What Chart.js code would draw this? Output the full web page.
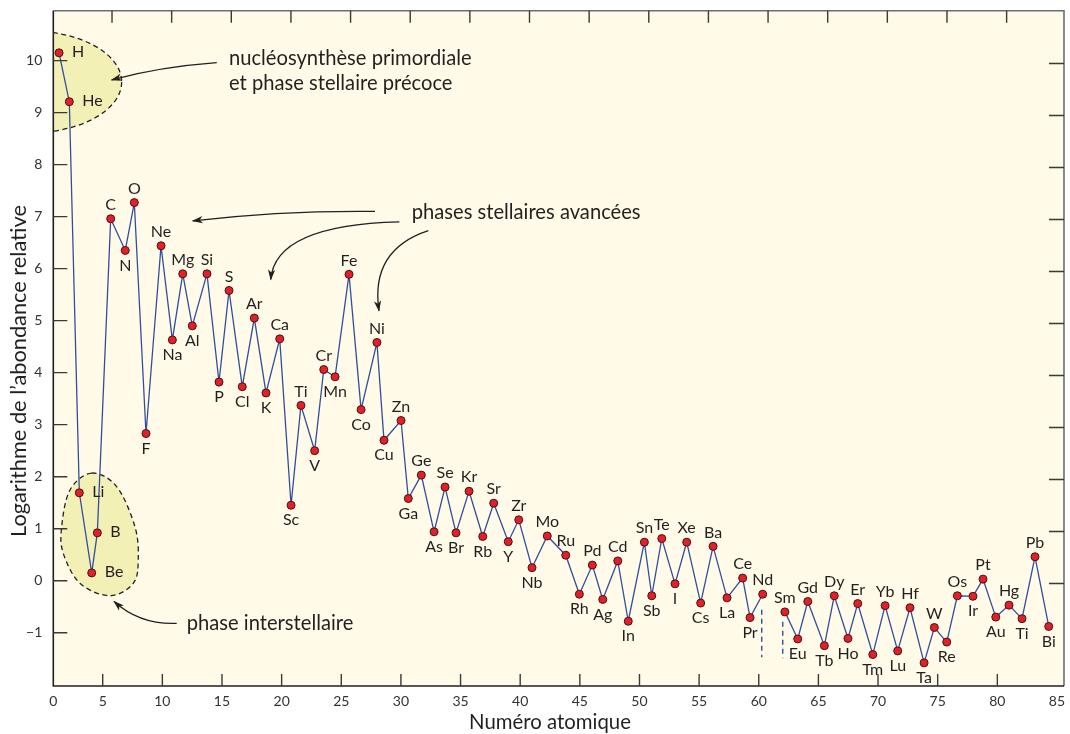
<!DOCTYPE html>
<html>
<head>
<meta charset="utf-8">
<script src="https://cdn.jsdelivr.net/npm/chart.js@4.4.1/dist/chart.umd.min.js"></script>
<style>
  html, body { margin: 0; padding: 0; background: #ffffff; }
  #wrap { width: 1070px; height: 734px; }
</style>
</head>
<body>
<div id="wrap"><canvas id="c" width="1070" height="734"></canvas></div>
<script>
// ---------- data ----------
const symbols = ['H','He','Li','Be','B','C','N','O','F','Ne','Na','Mg','Al','Si','P','S','Cl','Ar','K','Ca',
  'Sc','Ti','V','Cr','Mn','Fe','Co','Ni','Cu','Zn','Ga','Ge','As','Se','Br','Kr','Rb','Sr','Y','Zr',
  'Nb','Mo','Ru','Rh','Pd','Ag','Cd','In','Sn','Sb','Te','I','Xe','Cs','Ba','La','Ce','Pr','Nd','Pm',
  'Sm','Eu','Gd','Tb','Dy','Ho','Er','Tm','Yb','Lu','Hf','Ta','W','Re','Os','Ir','Pt','Au','Hg','Ti','Pb','Bi'];

// horizontal position of each point as drawn on the atomic-number axis
const atomicPos = [1.34,2.20,3.04,4.08,4.55,5.67,6.89,7.65,8.63,9.89,10.84,11.71,12.51,13.74,14.75,15.59,16.70,17.71,18.69,19.84,
  20.79,21.62,22.77,23.53,24.48,25.65,26.66,27.99,28.58,30.01,30.62,31.71,32.78,33.70,34.62,35.71,36.86,37.78,39.00,39.88,
  40.99,42.27,43.82,44.96,46.05,46.92,48.18,49.06,50.41,51.03,51.87,52.98,53.96,55.13,56.17,57.34,58.65,59.27,60.33,61.20,
  62.19,63.27,64.11,65.50,66.33,67.48,68.30,69.56,70.59,71.65,72.68,73.86,74.72,75.76,76.65,77.96,78.80,79.87,80.98,82.07,83.16,84.31];

// log of relative abundance (Pm not shown -> null)
const logAbundance = [10.15,9.21,1.69,0.15,0.92,6.96,6.35,7.27,2.83,6.44,4.63,5.90,4.90,5.90,3.82,5.58,3.73,5.05,3.61,4.65,
  1.45,3.37,2.50,4.06,3.92,5.89,3.29,4.58,2.70,3.08,1.58,2.03,0.94,1.80,0.92,1.72,0.85,1.49,0.75,1.17,
  0.25,0.86,0.49,-0.26,0.30,-0.36,0.38,-0.78,0.74,-0.29,0.81,-0.06,0.74,-0.43,0.66,-0.33,0.05,-0.71,-0.26,null,
  -0.60,-1.12,-0.40,-1.25,-0.29,-1.11,-0.44,-1.42,-0.48,-1.35,-0.52,-1.58,-0.90,-1.18,-0.29,-0.30,0.03,-0.70,-0.47,-0.73,0.46,-0.88];

// label side: a = above, b = below, r = right
const labelSide = ['r','r','r','r','r','a','b','a','b','a','b','a','b','a','b','a','b','a','b','a',
  'b','a','b','a','b','a','b','a','b','a','b','a','b','a','b','a','b','a','b','a',
  'b','a','a','b','a','b','a','b','a','b','a','b','a','b','a','b','a','b','a','-',
  'a','b','a','b','a','b','a','b','a','b','a','b','a','b','a','b','a','b','a','b','a','b'];

// dashed markers around the missing Pm
const pmMarkA = [{x: 60.25, y: -0.56}, {x: 60.25, y: -1.47}];
const pmMarkB = [{x: 62.01, y: -0.79}, {x: 62.01, y: -1.49}];

const xTickLabels = [0,5,10,15,20,25,30,35,40,45,50,55,60,65,70,75,80,85];
const yTickLabels = [-1,0,1,2,3,4,5,6,7,8,9,10];
const X_MIN = 0.858, X_MAX = 85.59, Y_MIN = -2.025, Y_MAX = 10.96;

// ---------- presentation ----------
const FONT = 'Lato, "Open Sans", sans-serif';
const INK = '#231f20';
const BG = '#fffbe8';
const BLOB = '#f3f0b5';
const LINE = '#2f4ea0';

const points = atomicPos.map((x, i) => ({x: x, y: logAbundance[i]}));

function fitSize(ctx, text, width) {
  ctx.font = '100px ' + FONT;
  return 100 * width / ctx.measureText(text).width;
}

function drawArrow(ctx, p0, c, p2) {
  ctx.beginPath();
  ctx.moveTo(p0[0], p0[1]);
  ctx.quadraticCurveTo(c[0], c[1], p2[0], p2[1]);
  ctx.stroke();
  let dx = p2[0] - c[0], dy = p2[1] - c[1];
  const L = Math.hypot(dx, dy); dx /= L; dy /= L;
  const nx = -dy, ny = dx, len = 10, hw = 3.6;
  ctx.beginPath();
  ctx.moveTo(p2[0] + dx, p2[1] + dy);
  ctx.lineTo(p2[0] - dx * len + nx * hw, p2[1] - dy * len + ny * hw);
  ctx.lineTo(p2[0] - dx * len * 0.7, p2[1] - dy * len * 0.7);
  ctx.lineTo(p2[0] - dx * len - nx * hw, p2[1] - dy * len - ny * hw);
  ctx.closePath();
  ctx.fill();
}

function smoothClosed(ctx, pts) {
  const n = pts.length;
  ctx.moveTo(pts[0][0], pts[0][1]);
  for (let i = 0; i < n; i++) {
    const p0 = pts[(i - 1 + n) % n], p1 = pts[i], p2 = pts[(i + 1) % n], p3 = pts[(i + 2) % n];
    const c1 = [p1[0] + (p2[0] - p0[0]) / 6, p1[1] + (p2[1] - p0[1]) / 6];
    const c2 = [p2[0] - (p3[0] - p1[0]) / 6, p2[1] - (p3[1] - p1[1]) / 6];
    ctx.bezierCurveTo(c1[0], c1[1], c2[0], c2[1], p2[0], p2[1]);
  }
  ctx.closePath();
}

// annotation geometry in data units
const blobOutline = [[4.07,2.07],[6.17,1.81],[7.70,1.04],[7.98,0.40],[7.56,-0.05],[5.61,-0.29],[3.09,-0.05],[1.69,0.53],[1.56,1.04],[2.25,1.74]];
const topEllipse = {cx: -1.10, cy: 9.59, rx: 7.69, ry: 0.98};
const arrows = [
  [[14.56, 9.96], [9.80, 9.88], [5.75, 9.63]],
  [[27.83, 7.10], [20.16, 7.12], [12.55, 6.92]],
  [[29.87, 6.90], [19.44, 6.84], [19.09, 5.79]],
  [[32.30, 6.73], [27.41, 6.36], [28.16, 5.19]],
  [[11.20, -0.82], [8.13, -0.85], [5.95, -0.40]]
];

const decor = {
  id: 'decor',
  beforeDraw(chart) {
    const ctx = chart.ctx, a = chart.chartArea;
    ctx.save();
    ctx.fillStyle = '#ffffff';
    ctx.fillRect(0, 0, chart.width, chart.height);
    ctx.fillStyle = BG;
    ctx.fillRect(a.left, a.top, a.right - a.left, a.bottom - a.top);
    ctx.restore();
  },
  beforeDatasetsDraw(chart) {
    const ctx = chart.ctx, a = chart.chartArea;
    const X = v => chart.scales.x.getPixelForValue(v);
    const Y = v => chart.scales.y.getPixelForValue(v);
    ctx.save();
    ctx.beginPath();
    ctx.rect(a.left, a.top, a.right - a.left, a.bottom - a.top);
    ctx.clip();
    ctx.fillStyle = BLOB;
    ctx.strokeStyle = INK;
    ctx.lineWidth = 1.3;
    ctx.setLineDash([5, 3.5]);
    // top ellipse
    const e = topEllipse;
    ctx.beginPath();
    ctx.ellipse(X(e.cx), Y(e.cy), X(e.cx + e.rx) - X(e.cx), Y(e.cy - e.ry) - Y(e.cy), 0, 0, Math.PI * 2);
    ctx.fill(); ctx.stroke();
    // lower blob
    ctx.beginPath();
    smoothClosed(ctx, blobOutline.map(p => [X(p[0]), Y(p[1])]));
    ctx.fill(); ctx.stroke();
    ctx.restore();
  },
  afterDatasetsDraw(chart) {
    const ctx = chart.ctx, a = chart.chartArea;
    const xs = chart.scales.x, ys = chart.scales.y;
    const X = v => xs.getPixelForValue(v);
    const Y = v => ys.getPixelForValue(v);
    ctx.save();

    // element labels
    const meta = chart.getDatasetMeta(0);
    ctx.fillStyle = INK;
    ctx.font = '16px ' + FONT;
    ctx.textBaseline = 'middle';
    meta.data.forEach((pt, i) => {
      if (logAbundance[i] === null) return;
      const s = labelSide[i];
      if (s === 'r') { ctx.textAlign = 'left'; ctx.fillText(symbols[i], pt.x + 13, pt.y - 1); }
      else if (s === 'a') { ctx.textAlign = 'center'; ctx.fillText(symbols[i], pt.x, pt.y - 14); }
      else if (s === 'b') { ctx.textAlign = 'center'; ctx.fillText(symbols[i], pt.x, pt.y + 15); }
    });

    // arrows
    ctx.strokeStyle = INK; ctx.fillStyle = INK; ctx.lineWidth = 1.3; ctx.setLineDash([]);
    arrows.forEach(ar => drawArrow(ctx, [X(ar[0][0]), Y(ar[0][1])], [X(ar[1][0]), Y(ar[1][1])], [X(ar[2][0]), Y(ar[2][1])]));

    // annotation texts
    const texts = [
      ['nucléosynthèse primordiale', 229, 65, 246],
      ['et phase stellaire précoce', 229, 90, 223.7],
      ['phases stellaires avancées', 411.7, 219.3, 228],
      ['phase interstellaire', 186.7, 630, 165]
    ];
    let sz = 0;
    texts.forEach(t => { sz += fitSize(ctx, t[0], t[3]); });
    sz /= texts.length;
    ctx.font = sz.toFixed(2) + 'px ' + FONT;
    ctx.textAlign = 'left'; ctx.textBaseline = 'alphabetic';
    ctx.fillStyle = INK;
    texts.forEach(t => ctx.fillText(t[0], t[1], t[2]));

    // frame
    ctx.lineWidth = 1.6;
    ctx.strokeStyle = '#6d6e71';
    ctx.beginPath();
    ctx.moveTo(a.left, a.top); ctx.lineTo(a.right, a.top); ctx.lineTo(a.right, a.bottom);
    ctx.stroke();
    ctx.strokeStyle = INK;
    ctx.beginPath();
    ctx.moveTo(a.left, a.top); ctx.lineTo(a.left, a.bottom); ctx.lineTo(a.right, a.bottom);
    ctx.stroke();

    // inward ticks
    ctx.lineWidth = 1.4;
    ctx.strokeStyle = '#3a3a3a';
    ctx.beginPath();
    for (let v = 5; v <= 80; v += 5) { const px = X(v); ctx.moveTo(px, a.bottom); ctx.lineTo(px, a.bottom - 12); }
    for (let v = 5.78; v <= 81; v += 5) { const px = X(v); ctx.moveTo(px, a.top); ctx.lineTo(px, a.top + 12); }
    yTickLabels.forEach(v => { const py = Y(v); ctx.moveTo(a.left, py); ctx.lineTo(a.left + 14, py); });
    for (let v = 0; v <= 10; v++) { const py = Y(v - 0.055); ctx.moveTo(a.right, py); ctx.lineTo(a.right - 15, py); }
    ctx.stroke();

    // axis titles
    ctx.fillStyle = INK;
    ctx.textAlign = 'center'; ctx.textBaseline = 'middle';
    const xt = 'Numéro atomique';
    ctx.font = fitSize(ctx, xt, 162).toFixed(2) + 'px ' + FONT;
    ctx.fillText(xt, 550, 722);
    const yt = 'Logarithme de l\u2019abondance relative';
    ctx.font = fitSize(ctx, yt, 332).toFixed(2) + 'px ' + FONT;
    ctx.translate(19, 371);
    ctx.rotate(-Math.PI / 2);
    ctx.fillText(yt, 0, 0);
    ctx.restore();
  }
};

new Chart(document.getElementById('c'), {
  type: 'scatter',
  data: {
    datasets: [
      { data: points, showLine: true, spanGaps: false, borderColor: LINE, borderWidth: 1.3,
        pointRadius: 4, pointBorderWidth: 1, pointBackgroundColor: '#e3202a', pointBorderColor: '#4a1212' },
      { data: pmMarkA, showLine: true, borderColor: LINE, borderWidth: 1.4, borderDash: [5, 4], pointRadius: 0 },
      { data: pmMarkB, showLine: true, borderColor: LINE, borderWidth: 1.4, borderDash: [5, 4], pointRadius: 0 }
    ]
  },
  options: {
    responsive: false,
    animation: false,
    devicePixelRatio: 1,
    layout: { padding: { top: 10.7, right: 6, left: 0, bottom: 0 } },
    plugins: { legend: { display: false }, tooltip: { enabled: false } },
    events: [],
    scales: {
      x: {
        type: 'linear', position: 'bottom', min: X_MIN, max: X_MAX,
        grid: { display: false, drawTicks: false, tickLength: 0 }, border: { display: false },
        afterBuildTicks: s => { s.ticks = xTickLabels.map(v => ({ value: Math.max(v, X_MIN) })); },
        afterFit: s => { s.height = 48; s.paddingLeft = 0; s.paddingRight = 0; },
        ticks: { autoSkip: false, maxRotation: 0, padding: 7, color: '#333333',
          font: { family: FONT, size: 14 },
          callback: (v, i) => String(xTickLabels[i]) }
      },
      y: {
        type: 'linear', position: 'left', min: Y_MIN, max: Y_MAX,
        grid: { display: false, drawTicks: false, tickLength: 0 }, border: { display: false },
        afterBuildTicks: s => { s.ticks = yTickLabels.map(v => ({ value: v })); },
        afterFit: s => { s.width = 53.3; s.paddingTop = 0; s.paddingBottom = 0; },
        ticks: { autoSkip: false, padding: 11, color: '#333333',
          font: { family: FONT, size: 14 },
          callback: (v, i) => { const t = yTickLabels[i]; return t < 0 ? '\u2212' + Math.abs(t) : String(t); } }
      }
    }
  },
  plugins: [decor]
});
</script>
</body>
</html>
